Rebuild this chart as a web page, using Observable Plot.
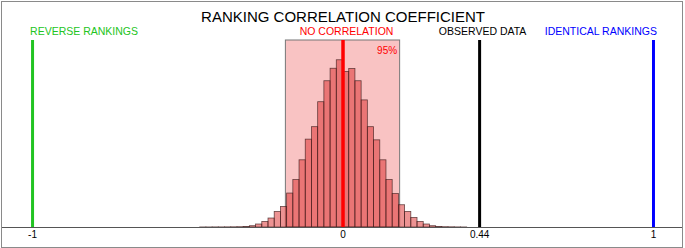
<!DOCTYPE html>
<html>
<head>
<meta charset="utf-8">
<script src="https://cdn.jsdelivr.net/npm/d3@7"></script>
<script src="https://cdn.jsdelivr.net/npm/@observablehq/plot@0.6"></script>
<style>
  html, body { margin: 0; padding: 0; background: #fff; }
  #wrap { position: relative; width: 685px; height: 248px; }
  #border { position: absolute; left: 1px; top: 1px; width: 682px; height: 247px; box-sizing: border-box; border: 1px solid #8a8a8a; pointer-events: none; }
</style>
</head>
<body>
<div id="wrap"><div id="border"></div></div>
<script>
// Title
const title = "RANKING CORRELATION COEFFICIENT";

// Histogram of simulated correlation coefficients (bin lower edges, bin width 0.02)
const binStart = [
  -0.46, -0.44, -0.42, -0.40, -0.38, -0.36, -0.34, -0.32, -0.30, -0.28,
  -0.26, -0.24, -0.22, -0.20, -0.18, -0.16, -0.14, -0.12, -0.10, -0.08,
  -0.06, -0.04, -0.02, 0.00, 0.02, 0.04, 0.06, 0.08, 0.10, 0.12,
  0.14, 0.16, 0.18, 0.20, 0.22, 0.24, 0.26, 0.28, 0.30, 0.32,
  0.34, 0.36, 0.38
];
const binWidth = 0.02;
const frequency = [
  0.05, 0.05, 0.1, 0.1, 0.15, 0.2, 0.3, 0.6, 1.3, 3,
  5.6, 9, 15.6, 20.6, 34, 47.5, 67.3, 88, 100.5, 125.5,
  146.5, 159, 167.5, 155.8, 158.7, 146.5, 127.3, 100.5, 87.3, 67.3,
  47.5, 33.5, 22.3, 15.6, 9.6, 5.6, 3, 1.3, 0.6, 0.3,
  0.2, 0.1, 0.05
];

// 95% interval of the null distribution
const ciLow = -0.184;
const ciHigh = 0.184;
const ciLabel = "95%";

// Reference markers
const markerValues = [-1, 0, 0.44, 1];
const markerLabels = ["REVERSE RANKINGS", "NO CORRELATION", "OBSERVED DATA", "IDENTICAL RANKINGS"];
const markerColors = ["#22c422", "#ff0000", "#000000", "#0000ff"];
const markerWidths = [3, 3.5, 3, 3];
const markerAnchors = ["start", "middle", "middle", "end"];
const markerDx = [-2.5, 3.5, 3, 3.5];

// Axis ticks
const tickValues = [-1, 0, 0.44, 1];
const tickLabels = ["-1", "0", "0.44", "1"];

const yTop = 187.3;

const bins = binStart.map((x0, i) => ({x0, x1: x0 + binWidth, y: frequency[i]}));
const markers = markerValues.map((v, i) => ({
  v, label: markerLabels[i], color: markerColors[i], w: markerWidths[i],
  anchor: markerAnchors[i], dx: markerDx[i]
}));

const font = "'Liberation Sans', Arial, Helvetica, sans-serif";

const plot = Plot.plot({
  width: 685,
  height: 248,
  marginLeft: 1,
  marginRight: 3,
  marginTop: 40,
  marginBottom: 21,
  style: {fontFamily: font, fontSize: "10px", background: "transparent", color: "#000"},
  x: {domain: [-1.1, 1.0935], axis: null},
  y: {domain: [0, yTop], axis: null},
  marks: [
    Plot.rect([{x1: ciLow, x2: ciHigh}], {
      x1: "x1", x2: "x2", y1: 0, y2: yTop,
      fill: "#f9c3c3", stroke: "#777", strokeWidth: 1
    }),
    Plot.rectY(bins, {
      x1: "x0", x2: "x1", y1: 0, y2: "y",
      fill: "#dc2828", fillOpacity: 0.5,
      stroke: "#3a1a1a", strokeOpacity: 0.75, strokeWidth: 0.8
    }),
    Plot.ruleY([0], {stroke: "#555", strokeWidth: 1}),
    ...markers.map(m => Plot.ruleX([m.v], {y1: 0, y2: yTop, stroke: m.color, strokeWidth: m.w})),
    ...markers.map(m => Plot.text([m.label], {
      x: m.v, y: yTop, text: d => d, dy: -9, dx: m.dx,
      textAnchor: m.anchor, fill: m.color, fontSize: 10.5
    })),
    Plot.text([ciLabel], {x: ciHigh, y: yTop, text: d => d, dx: -3, dy: 10.5, textAnchor: "end", fill: "#ff0000", fontSize: 10}),
    Plot.text([title], {x: 0, frameAnchor: "top", text: d => d, dy: -28.7, fontSize: 15, fill: "#000"}),
    Plot.axisX({
      ticks: tickValues,
      tickFormat: d => tickLabels[tickValues.indexOf(d)],
      tickSize: 0, tickPadding: 3, fontSize: 10, anchor: "bottom", label: null
    })
  ]
});
document.getElementById("wrap").prepend(plot);
</script>
</body>
</html>
